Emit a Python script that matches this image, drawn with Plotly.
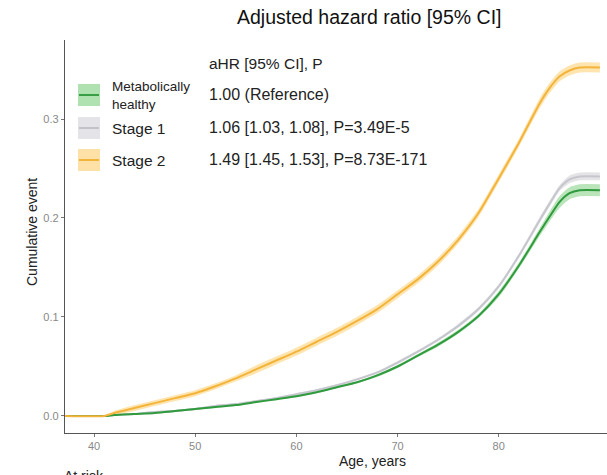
import plotly.graph_objects as go

# ---------------- data ----------------
ages = [37, 41, 42, 44, 46, 48, 50, 52, 54, 56, 58, 60, 62, 64, 66, 68, 70,
        72, 74, 76, 78, 80, 82, 84, 85, 86, 87, 88, 90]

healthy = [0, 0, 0.001, 0.002, 0.003, 0.005, 0.007, 0.009, 0.011, 0.014, 0.017,
           0.020, 0.024, 0.029, 0.034, 0.041, 0.050, 0.061, 0.072, 0.085, 0.101,
           0.123, 0.152, 0.185, 0.201, 0.216, 0.225, 0.228, 0.228]
healthy_hw = [0, 0, 0.0005, 0.0005, 0.001, 0.001, 0.001, 0.001, 0.001, 0.001, 0.001,
              0.001, 0.001, 0.001, 0.001, 0.0015, 0.0015, 0.0015, 0.002, 0.002, 0.002,
              0.003, 0.003, 0.004, 0.005, 0.006, 0.006, 0.006, 0.006]

stage1 = [0, 0, 0.001, 0.002, 0.004, 0.005, 0.007, 0.010, 0.012, 0.015, 0.018,
          0.022, 0.026, 0.031, 0.037, 0.044, 0.054, 0.065, 0.077, 0.091, 0.108,
          0.131, 0.162, 0.197, 0.214, 0.230, 0.239, 0.242, 0.242]
stage1_hw = [0, 0, 0.0005, 0.0005, 0.001, 0.001, 0.001, 0.001, 0.001, 0.001, 0.001,
             0.001, 0.001, 0.001, 0.001, 0.001, 0.0015, 0.0015, 0.0015, 0.002, 0.002,
             0.002, 0.002, 0.003, 0.003, 0.003, 0.004, 0.004, 0.004]

stage2 = [0, 0, 0.003, 0.008, 0.013, 0.018, 0.023, 0.030, 0.038, 0.047, 0.056,
          0.065, 0.075, 0.085, 0.096, 0.108, 0.123, 0.138, 0.156, 0.178, 0.205,
          0.240, 0.276, 0.315, 0.331, 0.343, 0.349, 0.352, 0.352]
stage2_hw = [0, 0, 0.002, 0.003, 0.003, 0.003, 0.003, 0.003, 0.003, 0.004, 0.004,
             0.004, 0.004, 0.004, 0.004, 0.004, 0.004, 0.004, 0.004, 0.004, 0.004,
             0.004, 0.004, 0.005, 0.005, 0.005, 0.005, 0.005, 0.005]

group_labels = ["Metabolically<br>healthy", "Stage 1", "Stage 2"]
hr_texts = ["1.00 (Reference)", "1.06 [1.03, 1.08], P=3.49E-5",
            "1.49 [1.45, 1.53], P=8.73E-171"]
x_ticks = [40, 50, 60, 70, 80]
y_ticks = [0.0, 0.1, 0.2, 0.3]
y_tick_labels = ["0.0", "0.1", "0.2", "0.3"]

# ---------------- styling ----------------
W, H = 607, 475
L, R, T, B = 65, 0, 40, 42
FONT = "Liberation Sans, Arial, sans-serif"

series = [
    (stage1, stage1_hw, "#c6c6ce", "rgba(205,205,212,0.55)"),
    (healthy, healthy_hw, "#2f9a3e", "rgba(130,205,130,0.55)"),
    (stage2, stage2_hw, "#f3b43c", "rgba(253,205,110,0.55)"),
]

fig = go.Figure()
for vals, hw, lc, fc in series:
    lo = [v - h for v, h in zip(vals, hw)]
    hi = [v + h for v, h in zip(vals, hw)]
    fig.add_trace(go.Scatter(x=ages, y=lo, mode="lines",
                             line=dict(width=0, shape="spline", smoothing=0.6),
                             hoverinfo="skip", showlegend=False))
    fig.add_trace(go.Scatter(x=ages, y=hi, mode="lines",
                             line=dict(width=0, shape="spline", smoothing=0.6),
                             fill="tonexty", fillcolor=fc, hoverinfo="skip",
                             showlegend=False))
for vals, hw, lc, fc in series:
    fig.add_trace(go.Scatter(x=ages, y=vals, mode="lines",
                             line=dict(color=lc, width=2, shape="spline", smoothing=0.6),
                             showlegend=False))

pw, ph = W - L - R, H - T - B


def px(x):
    return (x - L) / pw


def py(y):
    return (H - B - y) / ph


annotations = []
shapes = []

# title
annotations.append(dict(text="Adjusted hazard ratio [95% CI]", x=px(369), y=py(17),
                        xref="paper", yref="paper", showarrow=False,
                        xanchor="center", yanchor="middle",
                        font=dict(size=19.5, color="#111", family=FONT)))
# header of legend table
annotations.append(dict(text="aHR [95% CI], P", x=px(207), y=py(63),
                        xref="paper", yref="paper", showarrow=False,
                        xanchor="left", yanchor="middle",
                        font=dict(size=15.5, color="#222", family=FONT)))

legend_rows = [95, 128, 160]
icon_fill = ["rgba(150,215,150,0.75)", "rgba(225,225,230,0.9)", "rgba(253,220,150,0.85)"]
icon_line = ["#3a9e46", "#c2c2ca", "#f3b43c"]
label_sizes = [13.5, 15.5, 15.5]
for i, yc in enumerate(legend_rows):
    shapes.append(dict(type="rect", xref="paper", yref="paper",
                       x0=px(78), x1=px(100), y0=py(yc - 11), y1=py(yc + 11),
                       fillcolor=icon_fill[i], line=dict(width=0)))
    shapes.append(dict(type="line", xref="paper", yref="paper",
                       x0=px(79), x1=px(99), y0=py(yc), y1=py(yc),
                       line=dict(color=icon_line[i], width=2)))
    annotations.append(dict(text=group_labels[i], x=px(110), y=py(yc),
                            xref="paper", yref="paper", showarrow=False,
                            xanchor="left", yanchor="middle", align="left",
                            font=dict(size=label_sizes[i], color="#222", family=FONT)))
    annotations.append(dict(text=hr_texts[i], x=px(207), y=py(yc - 1),
                            xref="paper", yref="paper", showarrow=False,
                            xanchor="left", yanchor="middle",
                            font=dict(size=16, color="#222", family=FONT)))

annotations.append(dict(text="Cumulative event", x=px(32), y=py(232),
                        xref="paper", yref="paper", showarrow=False, textangle=-90,
                        xanchor="center", yanchor="middle",
                        font=dict(size=14, color="#222", family=FONT)))
annotations.append(dict(text="Age, years", x=px(372), y=py(461),
                        xref="paper", yref="paper", showarrow=False,
                        xanchor="center", yanchor="middle",
                        font=dict(size=14, color="#222", family=FONT)))
annotations.append(dict(text="At risk", x=px(62), y=py(466),
                        xref="paper", yref="paper", showarrow=False,
                        xanchor="left", yanchor="top",
                        font=dict(size=14, color="#222", family=FONT)))

fig.update_layout(
    width=W, height=H,
    margin=dict(l=L, r=R, t=T, b=B, pad=0),
    paper_bgcolor="white", plot_bgcolor="white",
    showlegend=False,
    annotations=annotations, shapes=shapes,
    xaxis=dict(range=[37.13, 90.7], tickvals=x_ticks, showgrid=False, zeroline=False,
               showline=True, linecolor="#555", linewidth=1.3, ticks="outside",
               ticklen=3, tickcolor="#777",
               tickfont=dict(size=11, color="#888", family=FONT)),
    yaxis=dict(range=[-0.0172, 0.3798], tickvals=y_ticks, ticktext=y_tick_labels,
               showgrid=False, zeroline=False, showline=True, linecolor="#555",
               linewidth=1.3, ticks="outside", ticklen=3, tickcolor="#777",
               tickfont=dict(size=11, color="#888", family=FONT)),
)

fig.write_html("out.html",
               config={"displayModeBar": False},
               post_script="document.body.style.margin='0';document.body.style.overflow='hidden';")
